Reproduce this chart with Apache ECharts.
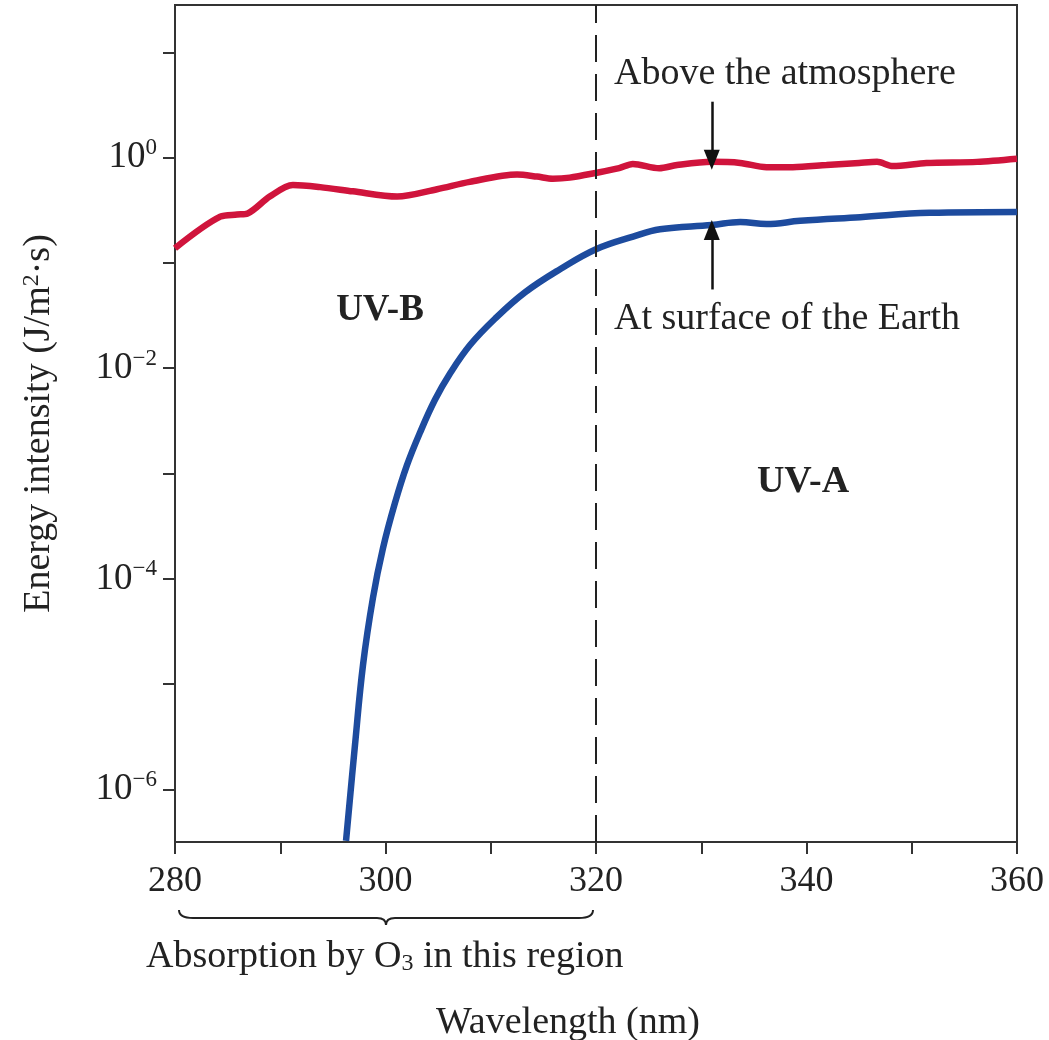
<!DOCTYPE html>
<html>
<head>
<meta charset="utf-8">
<title>UV energy intensity</title>
<script src="https://cdn.jsdelivr.net/npm/echarts@6/dist/echarts.min.js"></script>
<style>
  html, body { margin: 0; padding: 0; background: #fff; }
  #main { width: 1049px; height: 1040px; }
</style>
</head>
<body>
<div id="main"></div>
<script>
// values: wavelength in nm, intensity in J/(m2 s)
var redNm  = [280, 284.3, 285.9, 286.9, 289.0, 291.2, 293.8, 296.9, 301.1, 304.9, 308.0, 312.5, 314.4, 315.9, 317.5, 320, 322.2, 323.5, 326.0, 327.7, 331, 333.7, 336.2, 338.7, 341.9, 345, 346.7, 348.2, 351.4, 356.2, 360];
var redVal = [0.138, 0.275, 0.288, 0.295, 0.427, 0.550, 0.525, 0.479, 0.427, 0.501, 0.589, 0.692, 0.661, 0.631, 0.646, 0.716, 0.794, 0.871, 0.794, 0.851, 0.912, 0.891, 0.813, 0.813, 0.851, 0.891, 0.912, 0.832, 0.891, 0.912, 0.977];

var blueNm  = [296.25, 297.1, 297.86, 298.81, 299.76, 300.9, 302.04, 303.28, 304.7, 306.13, 308.03, 310.4, 313.25, 316.58, 320, 323.52, 326.08, 331, 333.7, 336.2, 339.4, 345.1, 351.7, 360];
var blueVal = [3.24e-7, 2.63e-6, 1.51e-5, 6.61e-5, 1.95e-4, 5.25e-4, 1.20e-3, 2.45e-3, 5.01e-3, 8.91e-3, 0.0166, 0.0295, 0.0525, 0.0871, 0.135, 0.178, 0.209, 0.229, 0.245, 0.234, 0.251, 0.272, 0.299, 0.305];

var yTickExp  = [-6, -5, -4, -3, -2, -1, 0, 1];
var yLabelExp = [-6, -4, -2, 0];
var xLabelNm  = [280, 300, 320, 340, 360];

var boundaryNm   = 320;
var ozoneRange   = [280, 320];
var arrowNm      = 331;
var aboveArrow   = [3.4, 0.955];
var surfaceArrow = [0.056, 0.205];

var serif = 'Liberation Serif, Times New Roman, serif';
var ink = '#222';

function toLog(nm, val) {
  return nm.map(function (x, i) { return [x, Math.log10(val[i])]; });
}

var chart = echarts.init(document.getElementById('main'));

var option = {
  animation: false,
  grid: {
    left: 175, right: 32, top: 5, bottom: 198,
    show: true, borderColor: '#333', borderWidth: 2,
    containLabel: false, outerBoundsMode: 'none'
  },
  xAxis: {
    type: 'value',
    min: 280, max: 360, interval: 10,
    axisLine: { onZero: false, lineStyle: { color: '#333', width: 2 } },
    axisTick: { length: 12, lineStyle: { color: '#333', width: 2 } },
    axisLabel: {
      margin: 22, fontFamily: serif, fontSize: 36, color: ink,
      formatter: function (v) { return xLabelNm.indexOf(v) >= 0 ? String(v) : ''; }
    },
    splitLine: { show: false },
    name: 'Wavelength (nm)',
    nameLocation: 'middle',
    nameGap: 162,
    nameTextStyle: { fontFamily: serif, fontSize: 38, color: ink, padding: [0, 56, 0, 0] }
  },
  yAxis: {
    type: 'value',
    min: -6.5, max: 1.45,
    axisLine: { onZero: false, lineStyle: { color: '#333', width: 2 } },
    axisTick: { length: 12, customValues: yTickExp, lineStyle: { color: '#333', width: 2 } },
    axisLabel: {
      customValues: yLabelExp,
      margin: 18,
      formatter: function (v) {
        return '{b|10}{s|' + (v === 0 ? '0' : '\u2212' + Math.abs(v)) + '}';
      },
      rich: {
        b: { fontFamily: serif, fontSize: 37, color: ink, lineHeight: 42 },
        s: { fontFamily: serif, fontSize: 23, color: ink, lineHeight: 22, verticalAlign: 'top' }
      }
    },
    splitLine: { show: false },
    name: 'Energy intensity (J/m{s|2}\u00b7s)',
    nameLocation: 'middle',
    nameGap: 117,
    nameTextStyle: {
      fontFamily: serif, fontSize: 38, color: ink,
      rich: {
        s: { fontFamily: serif, fontSize: 24, color: ink, lineHeight: 22, verticalAlign: 'top' }
      }
    }
  },
  series: [
    {
      name: 'Above the atmosphere',
      type: 'line',
      data: toLog(redNm, redVal),
      smooth: 0.3,
      symbol: 'none',
      lineStyle: { color: '#d0143c', width: 6.5 },
      markLine: {
        silent: true,
        symbol: 'none',
        label: { show: false },
        lineStyle: { color: ink, width: 2, type: [27, 12] },
        data: [{ xAxis: boundaryNm }]
      }
    },
    {
      name: 'At surface of the Earth',
      type: 'line',
      data: toLog(blueNm, blueVal),
      smooth: 0.4,
      symbol: 'none',
      lineStyle: { color: '#1d4b9e', width: 6.5 },
      markLine: {
        silent: true,
        symbol: ['none', 'triangle'],
        symbolSize: [16, 20],
        label: { show: false },
        lineStyle: { color: '#111', width: 2.5, type: 'solid' },
        itemStyle: { color: '#111' },
        data: [
          [{ coord: [arrowNm, Math.log10(aboveArrow[0])] }, { coord: [arrowNm, Math.log10(aboveArrow[1])] }],
          [{ coord: [arrowNm, Math.log10(surfaceArrow[0])] }, { coord: [arrowNm, Math.log10(surfaceArrow[1])] }]
        ]
      }
    }
  ]
};

chart.setOption(option);

// brace under the ozone absorption range, placed from the axis scale
var pa = chart.convertToPixel({ gridIndex: 0 }, [ozoneRange[0], -6.5]);
var pb = chart.convertToPixel({ gridIndex: 0 }, [ozoneRange[1], -6.5]);
var x0 = pa[0] + 4, x1 = pb[0] - 3, xm = (x0 + x1) / 2;
var yTop = pa[1] + 68, yMid = pa[1] + 76, yTip = pa[1] + 83;
var braceStyle = { stroke: ink, lineWidth: 2, fill: 'none' };

function curve(ax, ay, cx, cy, bx, by) {
  return { type: 'bezierCurve', shape: { x1: ax, y1: ay, cpx1: cx, cpy1: cy, x2: bx, y2: by }, style: braceStyle, silent: true };
}
function seg(ax, ay, bx, by) {
  return { type: 'line', shape: { x1: ax, y1: ay, x2: bx, y2: by }, style: braceStyle, silent: true };
}
function label(text, x, y, size, extra) {
  var st = { text: text, fontFamily: serif, fontSize: size, fill: ink, align: 'left', verticalAlign: 'middle' };
  for (var k in extra) st[k] = extra[k];
  return { type: 'text', x: x, y: y, style: st, silent: true };
}

chart.setOption({
  graphic: [
    curve(x0, yTop, x0, yMid, x0 + 14, yMid),
    seg(x0 + 14, yMid, xm - 9, yMid),
    curve(xm - 9, yMid, xm, yMid, xm, yTip),
    curve(xm, yTip, xm, yMid, xm + 9, yMid),
    seg(xm + 9, yMid, x1 - 14, yMid),
    curve(x1 - 14, yMid, x1, yMid, x1, yTop),
    label('Above the atmosphere', 614, 74, 38),
    label('At surface of the Earth', 614, 319, 38),
    label('UV-B', 380, 310, 37, { fontWeight: 'bold', align: 'center' }),
    label('UV-A', 803, 482, 38, { fontWeight: 'bold', align: 'center' }),
    label('Absorption by O{d|3} in this region', 146, 957, 38, {
      rich: { d: { fontFamily: serif, fontSize: 24, fill: ink, lineHeight: 24, verticalAlign: 'bottom' } }
    })
  ]
});
</script>
</body>
</html>
